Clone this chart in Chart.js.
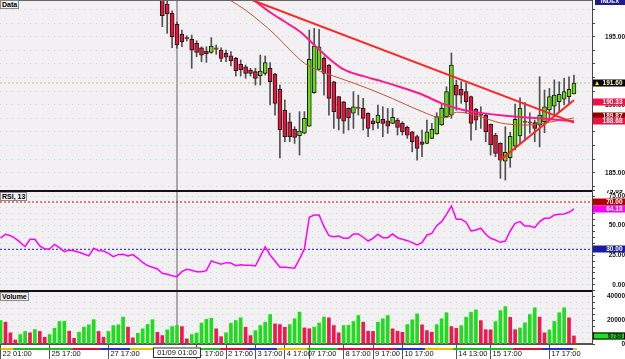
<!DOCTYPE html>
<html>
<head>
<meta charset="utf-8">
<title>Data</title>
<script src="https://cdn.jsdelivr.net/npm/chart.js@4.4.1/dist/chart.umd.min.js"></script>
<style>
  body { margin: 0; width: 625px; height: 359px; overflow: hidden; position: relative; background: #fff; }
  canvas { position: absolute; left: 0; z-index: 1; }
  .sep { position: absolute; left: 0; width: 592px; background: #111; z-index: 2; }
  .tag { position: absolute; left: 0; z-index: 3; font: bold 7px "Liberation Sans", Arial, sans-serif; line-height: 7px;
         color: #000; background: #f0eff0; border: 1px solid #8a8a8a; padding: 0 1px; }
  #idx { position: absolute; left: 595px; top: 0; width: 30px; height: 5px; overflow: hidden; z-index: 3; background: #1c1c96;
         color: #fff; font: bold 6px "Liberation Sans", Arial, sans-serif; line-height: 3px; text-align: center; }
</style>
</head>
<body>
<canvas id="priceChart" width="625" height="190" style="top:0"></canvas>
<canvas id="rsiChart" width="625" height="100" style="top:190px"></canvas>
<canvas id="volChart" width="625" height="69" style="top:290px"></canvas>
<div class="sep" style="top:0;height:1px;background:#666"></div>
<div class="sep" style="top:190px;height:2px"></div>
<div class="sep" style="top:290px;height:2px"></div>
<div class="tag" style="top:0">Data</div>
<div class="tag" style="top:192px">RSI, 13</div>
<div class="tag" style="top:292px">Volume</div>
<div id="idx">INDEX</div>
<script>
// bars are numbered 0..117 from the left edge, the vertical marker sits on bar 36
var markerIdx = 36;
var markerText = '01/09 01:00';
var timeTickIdx = [0, 10, 22, 40, 46, 52, 58, 63, 70, 76, 82, 93, 100, 112];
var timeTickText = ['22 01:00', '25 17:00', '27 17:00', '1 17:00', '2 17:00', '3 17:00', '4 17:00',
                    '7 17:00', '8 17:00', '9 17:00', '10 17:00', '14 13:00', '15 17:00', '17 17:00'];

// OHLC from bar 33 on (the earlier bars are above the price window)
var firstCandle = 33;
var openP = [198.3, 197.4, 196.72, 195.91, 195.18, 194.85, 194.81, 194.51, 194.19, 193.95,
             193.85, 194.07, 194.02, 193.78, 193.6, 193.41, 192.97, 192.79, 192.55, 192.43,
             192.13, 192.31, 192.68, 192.26, 191.13, 189.61, 188.75, 188.19, 187.72, 187.9,
             188.43, 190.88, 192.6, 193.41, 192.92, 191.69, 190.59, 190.22, 189.73, 189.37,
             189.72, 189.73, 189.37, 188.82, 188.68, 188.92, 188.82, 188.63, 188.87, 188.63,
             188.34, 188.01, 187.65, 187.28, 187.16, 187.53, 187.85, 188.51, 189.12, 189.24,
             191.45, 191.13, 190.96, 190.59, 189.68, 189.22, 189.24, 188.56, 187.77, 187.16,
             185.85, 186.1, 186.96, 187.7, 188.69, 188.64, 188.68, 188.5, 188.75, 189.61,
             189.9, 190.22, 190.4, 190.59, 190.79];
var highP = [198.6, 197.8, 196.9, 196.08, 195.49, 195.07, 195.12, 194.71, 194.26, 194.26,
             194.93, 194.39, 194.19, 194.02, 193.9, 193.49, 193.29, 192.92, 192.68, 192.68,
             193.65, 193.58, 193.09, 192.3, 191.45, 190.35, 189.39, 188.38, 189.49, 189.49,
             195.49, 195.62, 195.54, 193.53, 192.95, 191.72, 190.62, 190.25, 189.76, 190.96,
             190.71, 190.47, 189.4, 189.0, 189.98, 189.85, 189.73, 189.73, 189.0, 188.75,
             188.43, 188.04, 187.77, 188.14, 188.87, 188.63, 189.41, 190.1, 191.32, 193.8,
             191.8, 191.69, 191.6, 190.64, 189.73, 189.85, 189.37, 188.58, 187.9, 187.2,
             188.38, 187.97, 190.05, 190.5, 190.15, 189.4, 188.87, 192.06, 191.08, 191.2,
             191.82, 191.69, 191.94, 192.06, 192.18];
var lowP = [195.74, 195.25, 194.19, 194.15, 194.26, 194.68, 192.68, 193.53, 193.16, 193.12,
            193.78, 193.71, 193.16, 193.16, 192.85, 192.11, 192.11, 191.94, 192.11, 191.45,
            191.45, 192.18, 189.98, 189.24, 186.08, 187.28, 187.28, 187.16, 186.3, 187.85,
            188.4, 190.85, 192.55, 190.71, 189.24, 188.26, 188.14, 187.9, 188.14, 188.26,
            189.24, 188.14, 187.65, 188.14, 188.26, 187.65, 187.9, 188.6, 187.77, 187.77,
            187.53, 186.54, 185.93, 186.18, 187.13, 187.5, 187.82, 188.48, 189.1, 189.0,
            189.6, 190.1, 189.37, 187.4, 188.14, 188.26, 187.28, 186.3, 186.18, 184.59,
            184.46, 185.4, 186.67, 187.16, 187.4, 187.9, 187.28, 186.9, 187.94, 188.87,
            189.12, 189.49, 189.98, 190.1, 190.79];
var closeP = [196.54, 196.67, 195.0, 194.39, 194.63, 194.85, 194.02, 193.85, 193.65, 193.75,
              194.32, 194.07, 193.41, 193.49, 193.24, 192.5, 192.55, 192.31, 192.31, 191.94,
              192.48, 193.09, 191.69, 190.1, 188.14, 187.65, 187.65, 187.6, 188.07, 189.0,
              193.34, 194.32, 194.26, 192.31, 190.47, 189.49, 189.0, 188.8, 189.05, 189.85,
              189.72, 189.0, 188.26, 188.58, 189.24, 188.63, 188.43, 189.07, 188.34, 188.01,
              187.77, 187.28, 186.79, 187.09, 188.01, 188.19, 189.12, 189.73, 190.96, 192.92,
              190.71, 190.71, 190.22, 188.63, 188.87, 189.22, 188.01, 187.04, 186.42, 185.93,
              186.5, 187.68, 188.93, 189.75, 188.69, 188.64, 188.26, 189.24, 189.85, 190.59,
              190.71, 190.76, 190.96, 191.13, 191.6];

// moving averages and trend lines (bar index, price)
var maSlowIdx = [50, 52, 55, 58, 61, 64, 67, 70, 74, 78, 82, 86, 90, 94, 98, 102, 106, 110, 114, 117];
var maSlow = [198.3, 197.6, 196.8, 196.1, 195.4, 194.4, 193.4, 192.6, 192.1, 191.7, 191.25, 190.75, 190.1,
              189.65, 189.4, 189.22, 189.1, 189.0, 188.88, 188.78];
var maFastIdx = [44, 47, 50, 53, 56, 59, 62, 65, 68, 72, 76, 80, 84, 86, 89, 91, 93, 95, 98, 101, 103, 107, 110, 114, 117];
var maFast = [198.3, 197.65, 196.95, 196.1, 195.15, 194.05, 193.05, 192.5, 192.1, 191.6, 191.05, 190.45, 189.8,
              189.5, 189.1, 189.05, 189.45, 189.4, 189.12, 188.75, 188.6, 188.5, 188.6, 188.85, 189.02];
var trendAIdx = [45, 117];
var trendA = [198.56, 188.68];
var trendBIdx = [102, 117];
var trendB = [185.93, 190.33];
var lastPrice = 191.60;
var priceTagValue = [191.60, 190.33, 189.87, 188.68];
var priceTagAt = [191.57, 190.2, 189.17, 188.82];

var rsi = [39.4, 42.7, 41.5, 39.3, 35.9, 32.2, 38.5, 38.5, 32.8, 30.3,
           30.3, 34.2, 31.4, 28.0, 29.4, 28.6, 27.5, 26.0, 24.4, 30.9,
           28.8, 28.6, 26.6, 23.8, 25.5, 25.8, 24.4, 25.5, 22.4, 19.0,
           16.2, 14.8, 13.4, 9.7, 8.9, 7.7, 6.9, 11.1, 13.1, 12.3,
           11.1, 11.1, 11.9, 20.1, 18.7, 17.3, 18.7, 18.4, 16.2, 17.0,
           16.6, 16.6, 15.9, 24.0, 32.2, 25.2, 20.1, 14.8, 14.8, 14.5,
           14.0, 21.8, 30.3, 57.1, 59.0, 59.0, 49.1, 41.5, 40.7, 41.2,
           39.3, 39.3, 43.0, 43.0, 40.2, 37.0, 39.3, 42.7, 39.8, 39.8,
           43.0, 39.8, 38.5, 37.3, 35.6, 33.7, 35.6, 42.1, 43.5, 50.0,
           53.4, 59.6, 66.6, 55.4, 55.4, 52.9, 45.5, 46.3, 47.8, 42.7,
           39.3, 37.9, 35.9, 37.0, 45.5, 52.0, 53.4, 49.7, 49.7, 48.3,
           53.4, 56.2, 56.2, 59.0, 59.6, 59.9, 61.3, 64.18];
var rsiHigh = 79.69;
var rsiLevels = [70, 30];

var volume = [19800, 18400, 9400, 3400, 8000, 10600, 9400, 12200, 10600, 5700,
              8000, 13300, 19000, 19200, 10800, 4800, 9900, 14200, 16200, 20500,
              10600, 5700, 10600, 15600, 16200, 22700, 14200, 5200, 9000, 12800,
              16500, 20500, 9900, 7100, 11900, 14700, 15600, 14700, 4300, 8000,
              9200, 17700, 20800, 21800, 12800, 6200, 9500, 17500, 19800, 22100,
              14100, 7100, 11300, 15600, 18400, 24900, 17000, 16400, 14100, 16400,
              21300, 26900, 13600, 12900, 14200, 17700, 22800, 22100, 15600, 9400,
              15600, 15800, 19000, 24100, 18400, 10800, 10600, 18400, 21300, 24100,
              12800, 10800, 9900, 16400, 20400, 25500, 16200, 11300, 9900, 16400,
              21300, 26400, 14700, 13200, 15500, 22500, 26700, 28800, 19700, 12100,
              12000, 18900, 28200, 31600, 22500, 12100, 13500, 17900, 24900, 30600,
              22700, 9400, 11900, 19000, 26400, 30600, 22100, 6788];

var priceTicks = [184, 185, 186, 187, 188, 189, 190, 191, 192, 193, 194, 195, 196, 197];
var rsiTicks = [0, 5, 10, 15, 20, 25, 30, 35, 40, 45, 50, 55, 60, 65, 70, 75, 80];
var volTicks = [0, 5000, 10000, 15000, 20000, 25000, 30000, 35000, 40000, 45000];

// trading-session strip under the volume pane
var sessionIdx = [0, 2.5, 14.6, 20.3, 26.4, 31.1, 44.8, 50.3, 56.4, 62.5, 68.7, 80.5, 86.6, 92.3, 104.6, 110.5, 116.8, 117.6];
var sessionColor = ['#e8c000', '#22bb22', '#e01030', '#2233cc', '#e8c000', '#22bb22', '#e01030', '#2233cc',
                    '#e8c000', '#22bb22', '#e01030', '#2233cc', '#e8c000', '#22bb22', '#e01030', '#2233cc', '#e8c000'];

Chart.defaults.font.family = 'Liberation Sans';
Chart.defaults.animation = false;

var xMin = -0.122, xMax = 120.69;

function pts(idx, vals) {
  return idx.map(function (x, n) { return {x: x, y: vals[n]}; });
}

var wickData = [], bodyData = [], bodyColor = [], bodyEdge = [];
for (var n = 0; n < openP.length; n++) {
  var i = firstCandle + n;
  wickData.push({x: i, y: [lowP[n], highP[n]]});
  bodyData.push({x: i, y: [openP[n], closeP[n]]});
  if (closeP[n] > openP[n]) { bodyColor.push('#66dd11'); bodyEdge.push('#1a1a1a'); }
  else if (closeP[n] < openP[n]) { bodyColor.push('#e8143c'); bodyEdge.push('#1a1a1a'); }
  else { bodyColor.push('#8b3a1a'); bodyEdge.push('#8b3a1a'); }
}

var volData = [], volColor = [];
volume.forEach(function (v, k) {
  volData.push({x: k, y: v});
  volColor.push(k === 0 || v >= volume[k - 1] ? '#1fdc1f' : '#f01850');
});

function xAxis(show) {
  return {
    type: 'linear', min: xMin, max: xMax, bounds: 'data', offset: false, display: show,
    grid: { display: show, drawOnChartArea: false, offset: false, tickLength: 15, tickColor: '#555' },
    border: { display: show, color: '#555', width: 2 },
    afterBuildTicks: function (s) { s.ticks = timeTickIdx.map(function (v) { return {value: v}; }); },
    afterFit: function (s) { if (show) { s.height = 15; } s.paddingLeft = 0; s.paddingRight = 0; },
    ticks: {
      autoSkip: false, maxRotation: 0, minRotation: 0, align: 'start', labelOffset: 2, padding: -9.5,
      color: '#111', font: {size: 7.5},
      callback: function (v, k) { return timeTickText[k]; }
    }
  };
}

function yAxis(min, max, ticks, label, pad) {
  return {
    position: 'right', min: min, max: max, bounds: 'data',
    afterBuildTicks: function (s) { s.ticks = ticks.map(function (v) { return {value: v}; }); },
    afterFit: function (s) { s.width = 33; s.paddingTop = 0; s.paddingBottom = 0; },
    grid: { color: 'rgba(110,210,110,0.45)', tickColor: '#444', tickLength: 3 },
    border: { display: true, color: '#444', width: 1, dash: [1, 5] },
    ticks: { autoSkip: false, crossAlign: 'far', padding: pad, color: '#111',
             font: {size: 6.5, weight: 'bold'}, callback: label }
  };
}

var panel = {
  id: 'panel',
  beforeDraw: function (chart) {
    var a = chart.chartArea, ctx = chart.ctx;
    ctx.save();
    ctx.fillStyle = '#f2f0f2';
    ctx.fillRect(a.left, a.top, a.right - a.left, a.bottom - a.top);
    ctx.restore();
  },
  beforeDatasetsDraw: function (chart) {
    var a = chart.chartArea, ctx = chart.ctx;
    var x = chart.scales.x.getPixelForValue(markerIdx);
    ctx.save();
    ctx.strokeStyle = '#a8a8a8';
    ctx.lineWidth = 2;
    ctx.beginPath();
    ctx.moveTo(x, a.top);
    ctx.lineTo(x, a.bottom);
    ctx.stroke();
    ctx.restore();
  }
};

function tagPlugin(tags) {
  return {
    id: 'tags',
    afterDraw: function (chart) {
      var ctx = chart.ctx, y = chart.scales.y;
      var left = y.left + 1, w = chart.width - left;
      ctx.save();
      ctx.font = 'bold 6.5px "Liberation Sans"';
      ctx.textBaseline = 'middle';
      tags.forEach(function (t) {
        var py = Math.round(y.getPixelForValue(t.at));
        if (t.bg) { ctx.fillStyle = t.bg; ctx.fillRect(left, py - 3.5, w, 7); }
        if (t.edge) { ctx.strokeStyle = t.edge; ctx.lineWidth = 1; ctx.strokeRect(left + 0.5, py - 3, w - 1, 6); }
        if (t.arrow) {
          ctx.fillStyle = '#ffe600';
          ctx.beginPath();
          ctx.moveTo(left + 2, py + 2); ctx.lineTo(left + 6, py + 2); ctx.lineTo(left + 4, py - 2);
          ctx.fill();
        }
        ctx.fillStyle = t.fg;
        ctx.textAlign = 'right';
        ctx.fillText(t.text, 622.5, py + 0.5);
      });
      ctx.restore();
    }
  };
}

var timeStrip = {
  id: 'timeStrip',
  afterDraw: function (chart) {
    var ctx = chart.ctx, xs = chart.scales.x, base = chart.chartArea.bottom + 4;
    ctx.save();
    for (var k = 0; k < sessionColor.length; k++) {
      var x1 = xs.getPixelForValue(sessionIdx[k]), x2 = xs.getPixelForValue(sessionIdx[k + 1]);
      ctx.fillStyle = sessionColor[k];
      ctx.fillRect(x1, base, x2 - x1, 2);
    }
    var mx = xs.getPixelForValue(markerIdx);
    ctx.fillStyle = '#fff';
    ctx.fillRect(mx - 24, base - 0.5, 48, 10);
    ctx.strokeStyle = '#333';
    ctx.lineWidth = 1;
    ctx.strokeRect(mx - 23.5, base, 47, 9.5);
    ctx.fillStyle = '#111';
    ctx.font = '7.5px "Liberation Sans"';
    ctx.textAlign = 'center';
    ctx.textBaseline = 'middle';
    ctx.fillText(markerText, mx, base + 5);
    ctx.restore();
  }
};

var common = {
  responsive: false, maintainAspectRatio: false, animation: false, events: [],
  layout: { padding: 0, autoPadding: false },
  plugins: { legend: { display: false }, tooltip: { enabled: false } }
};

var priceTags = priceTagValue.map(function (v, k) {
  var bg = ['#000', '#ee1144', '#8b0000', '#ee1144'][k];
  return { text: v.toFixed(2), at: priceTagAt[k], bg: bg, fg: k === 0 ? '#ffffcc' : '#fff', arrow: k === 0 };
});

new Chart(document.getElementById('priceChart').getContext('2d'), {
  type: 'bar',
  data: {
    datasets: [
      { label: 'wick', data: wickData, backgroundColor: '#505050', barThickness: 1, grouped: false, order: 4 },
      { label: 'body', data: bodyData, backgroundColor: bodyColor, borderColor: bodyEdge, borderWidth: 1,
        borderSkipped: false, barThickness: 4, minBarLength: 1.5, grouped: false, order: 3 },
      { type: 'line', label: 'MA fast', data: pts(maFastIdx, maFast), borderColor: '#c0563f', borderWidth: 1,
        pointRadius: 0, cubicInterpolationMode: 'monotone', order: 2 },
      { type: 'line', label: 'MA slow', data: pts(maSlowIdx, maSlow), borderColor: '#ff1a8c', borderWidth: 2,
        pointRadius: 0, cubicInterpolationMode: 'monotone', order: 1 },
      { type: 'line', label: 'trend A', data: pts(trendAIdx, trendA), borderColor: '#ff2424', borderWidth: 2,
        pointRadius: 0, order: 0 },
      { type: 'line', label: 'trend B', data: pts(trendBIdx, trendB), borderColor: '#ff2424', borderWidth: 2,
        pointRadius: 0, order: 0 },
      { type: 'line', label: 'price', data: [{x: xMin, y: lastPrice}, {x: xMax, y: lastPrice}],
        borderColor: '#bdbd98', borderWidth: 1, borderDash: [2, 2], pointRadius: 0, order: 5 }
    ]
  },
  options: Object.assign({}, common, {
    scales: {
      x: xAxis(false),
      y: yAxis(183.73, 197.70, priceTicks, function (v) { return v % 5 === 0 ? v.toFixed(2) : ''; }, 7.6)
    }
  }),
  plugins: [panel, tagPlugin(priceTags)]
});

new Chart(document.getElementById('rsiChart').getContext('2d'), {
  type: 'line',
  data: {
    datasets: [
      { label: 'RSI', data: rsi.map(function (v, k) { return {x: k, y: v}; }), borderColor: '#ff00ff',
        borderWidth: 1.5, pointRadius: 0, tension: 0 },
      { label: 'upper', data: [{x: xMin, y: rsiLevels[0]}, {x: xMax, y: rsiLevels[0]}], borderColor: '#cc1010',
        borderWidth: 1, borderDash: [2, 2], pointRadius: 0 },
      { label: 'lower', data: [{x: xMin, y: rsiLevels[1]}, {x: xMax, y: rsiLevels[1]}], borderColor: '#2020c8',
        borderWidth: 1, borderDash: [2, 2], pointRadius: 0 }
    ]
  },
  options: Object.assign({}, common, {
    scales: {
      x: xAxis(false),
      y: yAxis(-4.42, 80.15, rsiTicks, function (v) { return v % 25 === 0 ? v.toFixed(2) : ''; }, 11.2)
    }
  }),
  plugins: [panel, tagPlugin([
    { text: rsiHigh.toFixed(2), at: 78.9, fg: '#000' },
    { text: rsiLevels[0].toFixed(2), at: rsiLevels[0], bg: '#b00000', fg: '#fff' },
    { text: rsi[rsi.length - 1].toFixed(2), at: rsi[rsi.length - 1], bg: '#ff00ff', fg: '#fff' },
    { text: rsiLevels[1].toFixed(2), at: rsiLevels[1], bg: '#1a1aa6', fg: '#fff' }
  ])]
});

new Chart(document.getElementById('volChart').getContext('2d'), {
  type: 'bar',
  data: {
    datasets: [
      { label: 'Volume', data: volData, backgroundColor: volColor, barThickness: 3, grouped: false }
    ]
  },
  options: Object.assign({}, common, {
    scales: {
      x: xAxis(true),
      y: yAxis(0, 45600, volTicks, function (v) { return v % 20000 === 0 ? String(v) : ''; }, 9.4)
    }
  }),
  plugins: [panel, timeStrip, tagPlugin([
    { text: String(volume[volume.length - 1]), at: volume[volume.length - 1], bg: '#22dd22', fg: '#000', edge: '#000' }
  ])]
});
</script>
</body>
</html>
